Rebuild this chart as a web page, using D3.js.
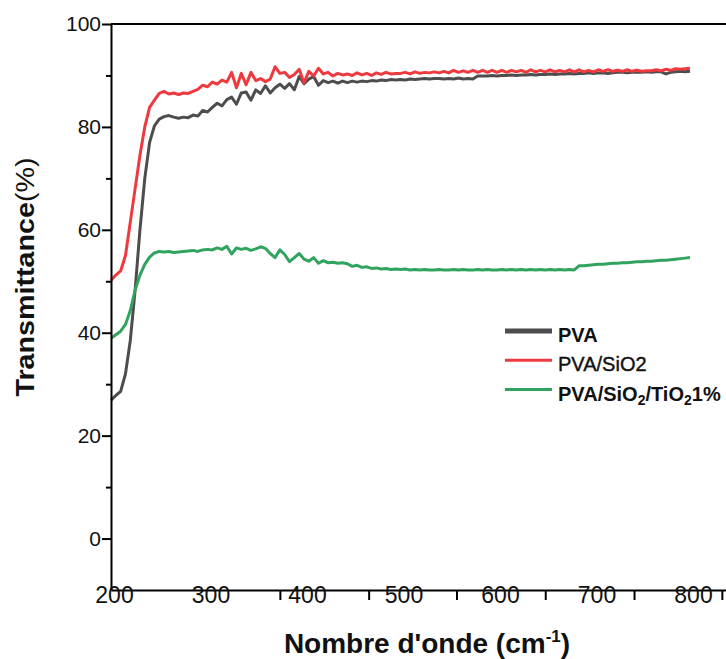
<!DOCTYPE html>
<html>
<head>
<meta charset="utf-8">
<script src="https://cdn.jsdelivr.net/npm/d3@7"></script>
<style>
    body { margin: 0; background: #ffffff; }
    text { font-family: Arial, "Liberation Sans", sans-serif; fill: #111; }
</style>
</head>
<body>
<div class="chart-container"></div>
<script>
// transmittance chart, 3 films
const svgWidth = 726;
const svgHeight = 659;

// wavenumber grid (cm-1), one reading every 5
const wavenumbers = d3.range(200, 805, 5);

// values, rows of 10 = 50 cm-1 each
const pvaValues = [
    26.9, 27.8, 28.6, 32.0, 38.5, 48.3, 60.0, 70.0, 77.0, 80.2,
    81.5, 82.0, 82.2, 81.9, 81.7, 81.9, 81.8, 82.3, 82.1, 83.2,
    82.9, 83.8, 84.6, 84.1, 85.3, 85.8, 84.4, 86.6, 86.8, 85.2,
    87.2, 86.5, 88.0, 86.6, 87.6, 88.3, 87.5, 88.4, 87.2, 89.8,
    88.4, 89.3, 89.8, 88.1, 89.0, 88.6, 88.9, 88.5, 88.9, 88.6,
    88.9, 88.7, 88.9, 88.8, 89.0, 88.9, 89.1, 89.0, 89.2, 89.1,
    89.2, 89.1, 89.3, 89.2, 89.3, 89.4, 89.3, 89.4, 89.4, 89.3,
    89.4, 89.3, 89.5, 89.3, 89.4, 89.3, 89.9, 89.9, 89.9, 90.0,
    89.9, 90.0, 90.0, 90.1, 90.0, 90.1, 90.1, 90.2, 90.1, 90.2,
    90.2, 90.3, 90.2, 90.3, 90.3, 90.4, 90.3, 90.4, 90.4, 90.5,
    90.4, 90.5, 90.5, 90.4, 90.5, 90.6, 90.6, 90.5, 90.6, 90.6,
    90.6, 90.7, 90.6, 90.7, 90.7, 90.3, 90.6, 90.7, 90.8, 90.7,
    90.8
];
const pvaSio2Values = [
    50.2, 51.2, 52.0, 55.0, 61.5, 68.0, 74.5, 80.0, 83.8, 85.2,
    86.5, 86.9, 86.4, 86.6, 86.3, 86.6, 86.5, 86.9, 87.3, 88.1,
    87.8, 88.7, 88.3, 89.1, 88.7, 90.6, 87.6, 90.4, 88.2, 90.6,
    89.0, 89.4, 88.8, 89.3, 91.7, 90.4, 90.6, 89.6, 90.2, 91.2,
    88.6, 90.8, 89.9, 91.4, 90.3, 90.6, 89.9, 90.4, 90.1, 90.3,
    90.0, 90.5, 90.1, 90.4, 90.0, 90.5, 90.2, 90.6, 90.3, 90.4,
    90.4, 90.6, 90.3, 90.7, 90.4, 90.6, 90.5, 90.7, 90.5, 90.8,
    90.5, 91.0, 90.6, 90.9, 90.6, 91.0, 90.6, 91.0, 90.6, 91.0,
    90.6, 91.0, 90.6, 91.0, 90.7, 91.0, 90.6, 91.1, 90.7, 91.0,
    90.7, 91.1, 90.7, 91.0, 90.7, 91.1, 90.7, 91.1, 90.7, 91.0,
    90.7, 91.1, 90.8, 91.1, 90.8, 91.0, 90.8, 91.1, 90.8, 91.0,
    90.8, 90.9, 90.9, 91.1, 90.9, 91.2, 91.0, 91.3, 91.2, 91.3,
    91.4
];
const pvaSio2Tio2Values = [
    38.9, 39.6, 40.3, 41.6, 44.3, 48.3, 51.2, 53.3, 54.7, 55.5,
    55.8, 55.7, 55.8, 55.6, 55.7, 55.8, 55.9, 56.0, 55.8, 56.1,
    56.2, 56.1, 56.5, 56.2, 56.8, 55.3, 56.5, 56.2, 56.4, 56.0,
    56.3, 56.7, 56.4, 55.4, 54.6, 56.1, 55.2, 53.8, 54.6, 55.4,
    54.3, 53.9, 54.6, 53.5, 54.0, 53.6, 53.7, 53.5, 53.6, 53.4,
    52.9, 53.1, 52.7, 52.8, 52.5, 52.6, 52.4, 52.5, 52.3, 52.4,
    52.3, 52.4, 52.2, 52.3, 52.2, 52.3, 52.2, 52.2, 52.3, 52.2,
    52.2, 52.3, 52.2, 52.3, 52.2, 52.2, 52.3, 52.2, 52.3, 52.2,
    52.2, 52.3, 52.2, 52.3, 52.2, 52.3, 52.2, 52.3, 52.2, 52.3,
    52.2, 52.3, 52.2, 52.3, 52.2, 52.3, 52.2, 53.0, 53.0, 53.1,
    53.2, 53.3, 53.3, 53.4, 53.5, 53.5, 53.6, 53.6, 53.7, 53.8,
    53.8, 53.9, 53.9, 54.0, 54.1, 54.1, 54.2, 54.3, 54.4, 54.5,
    54.6
];

const seriesNames = ["PVA", "PVA/SiO2", "PVA/SiO2/TiO21%"];
const seriesColors = ["#4d4d4d", "#ee3a3f", "#30a35e"];

// tick labels and the (offset) tick marks of the x axis
const xTickLabels = [200, 300, 400, 500, 600, 700, 800];
const xTickMarks = [375, 467, 558, 650, 742, 833];
const yTickLabels = [0, 20, 40, 60, 80, 100];
const yMinorTicks = [10, 30, 50, 70, 90];

const svg = d3.select(".chart-container")
    .append("svg")
    .attr("width", svgWidth)
    .attr("height", svgHeight)
    .style("display", "block");

const x = d3.scaleLinear()
    .domain([200, 840])
    .range([111, 728.6]);

const y = d3.scaleLinear()
    .domain([-10, 100])
    .range([590, 24]);

const series = [pvaValues, pvaSio2Values, pvaSio2Tio2Values];

const line = d3.line()
    .x((d, i) => x(wavenumbers[i]))
    .y(d => y(d));

// curves
svg.selectAll(".curve")
    .data(series)
    .enter()
    .append("path")
    .attr("class", "curve")
    .attr("d", d => line(d))
    .attr("fill", "none")
    .attr("stroke", (d, i) => seriesColors[i])
    .attr("stroke-width", 3)
    .attr("stroke-linejoin", "round");

// top frame line
svg.append("line")
    .attr("x1", x(200))
    .attr("x2", x(840))
    .attr("y1", y(100))
    .attr("y2", y(100))
    .attr("stroke", "#000")
    .attr("stroke-width", 2);

// y axis, major then minor ticks
const yAxis = svg.append("g")
    .attr("transform", `translate(${x(200)},0)`)
    .call(d3.axisLeft(y).tickValues(yTickLabels).tickSize(9).tickSizeOuter(0).tickPadding(1));
yAxis.selectAll("text")
    .attr("font-size", 21)
    .attr("font-family", "Arial, 'Liberation Sans', sans-serif");

svg.append("g")
    .attr("transform", `translate(${x(200)},0)`)
    .call(d3.axisLeft(y).tickValues(yMinorTicks).tickSize(5).tickFormat(""))
    .call(g => g.select(".domain").remove());

// x axis: labels sit on the line, tick marks sit elsewhere
const xAxis = svg.append("g")
    .attr("transform", `translate(0,${y(-10)})`)
    .call(d3.axisBottom(x).tickValues(xTickLabels).tickSize(0).tickSizeOuter(0).tickPadding(-3));
xAxis.selectAll("text")
    .attr("font-size", 23)
    .attr("dx", 3)
    .attr("font-family", "Arial, 'Liberation Sans', sans-serif");

svg.append("g")
    .attr("transform", `translate(0,${y(-10)})`)
    .call(d3.axisBottom(x).tickValues(xTickMarks).tickSize(10).tickFormat(""))
    .call(g => g.select(".domain").remove());

svg.selectAll(".domain, .tick line")
    .attr("stroke", "#000")
    .attr("stroke-width", 2);

// axis titles
svg.append("text")
    .attr("x", 427)
    .attr("y", 653)
    .attr("text-anchor", "middle")
    .attr("font-size", 28)
    .attr("font-weight", "bold")
    .call(t => {
        t.append("tspan").text("Nombre d'onde (cm");
        t.append("tspan").text("-1").attr("font-size", 17).attr("dy", -11);
        t.append("tspan").text(")").attr("dy", 11);
    });

svg.append("text")
    .attr("transform", "translate(34,277) rotate(-90)")
    .attr("text-anchor", "middle")
    .attr("font-size", 25)
    .attr("textLength", 239)
    .attr("lengthAdjust", "spacingAndGlyphs")
    .call(t => {
        t.append("tspan").text("Transmittance").attr("font-weight", "bold");
        t.append("tspan").text("(%)");
    });

// legend
const legendParts = [
    [["PVA", false]],
    [["PVA/SiO2", false]],
    [["PVA/SiO", false], ["2", true], ["/TiO", false], ["2", true], ["1%", false]]
];
const legendWeights = ["bold", "normal", "bold"];
const legendWidths = [5, 3, 3];

const legend = svg.append("g")
    .attr("transform", "translate(505,331)");

const rows = legend.selectAll(".row")
    .data(seriesNames)
    .enter()
    .append("g")
    .attr("class", "row")
    .attr("transform", (d, i) => `translate(0,${i * 29.3})`);

rows.append("line")
    .attr("x1", 0)
    .attr("x2", 47)
    .attr("stroke", (d, i) => seriesColors[i])
    .attr("stroke-width", (d, i) => legendWidths[i]);

rows.append("text")
    .attr("x", 53)
    .attr("y", 11)
    .attr("font-size", 20)
    .attr("font-weight", (d, i) => legendWeights[i])
    // the middle entry looks a touch heavier than plain regular
    .attr("stroke", (d, i) => legendWeights[i] === "normal" ? "#111" : "none")
    .attr("stroke-width", 0.4)
    .each(function (d, i) {
        const t = d3.select(this);
        legendParts[i].forEach(p => {
            t.append("tspan")
                .text(p[0])
                .attr("font-size", p[1] ? 14 : 20)
                .attr("dy", p[1] ? 4 : (t.selectAll("tspan").size() > 1 ? -4 : 0));
        });
    });
</script>
</body>
</html>
